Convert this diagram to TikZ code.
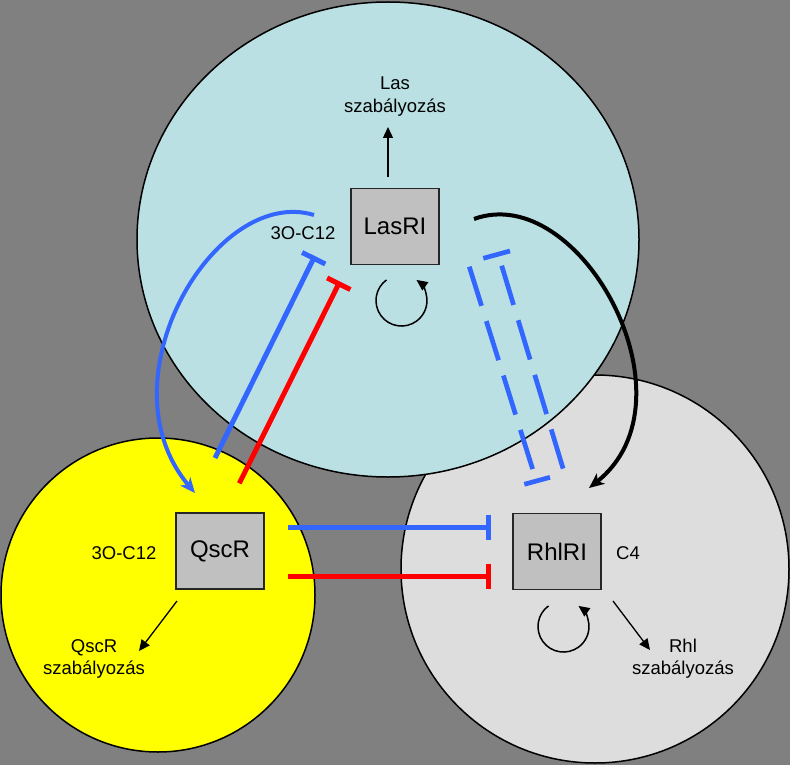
\documentclass[tikz,border=0pt]{standalone}
\usepackage{fontspec}
\setmainfont{Liberation Sans}
\usetikzlibrary{arrows.meta}
\definecolor{bgg}{RGB}{128,128,128}
\definecolor{cyanc}{RGB}{186,224,227}
\definecolor{lgrey}{RGB}{221,221,221}
\definecolor{boxg}{RGB}{192,192,192}
\definecolor{blu}{RGB}{51,102,255}
\definecolor{rd}{RGB}{255,0,0}
\definecolor{yel}{RGB}{255,255,0}
\begin{document}
\begin{tikzpicture}[x=1pt,y=-1pt,
  cell/.style={draw=black,line width=1.5pt},
  gene/.style={draw=black!85,line width=1.2pt,fill=boxg,minimum width=88pt,minimum height=76pt,inner sep=0pt,font=\fontsize{24}{28}\selectfont},
  lbl/.style={font=\fontsize{18.5}{22.5}\selectfont,align=center,inner sep=0pt},
  thinarr/.style={line width=1.3pt,-{Triangle[length=11pt,width=10pt]}},
  selfl/.style={line width=1.5pt,-{Triangle[length=11pt,width=10pt]}},
  inhbh/.style={line width=5pt,-{Bar[width=25pt,line width=5pt]}},
  inhbd/.style={line width=5pt,-{Bar[width=26pt,line width=5pt]}},
  bigarr/.style={line width=4pt,-{Stealth[length=15pt,width=13pt,inset=4pt]}},
  dashside/.style={blu,line width=4.7pt,dash pattern=on 41pt off 16pt},
  dashcap/.style={blu,line width=4.7pt}]
\useasboundingbox (0,0) rectangle (790,765);
\fill[bgg] (0,0) rectangle (790,765);
% cells
\draw[cell,fill=lgrey] (595,569) circle[radius=194];
\draw[cell,fill=cyanc] (388,239.5) ellipse[x radius=251,y radius=237.5];
\draw[cell,fill=yel] (158,595) circle[radius=157];
% gene boxes
\node[gene] (las) at (395,226.5) {LasRI};
\node[gene] (qsc) at (220,551) {QscR};
\node[gene] (rhl) at (557,551.5) {RhlRI};
% labels
\node[lbl] (lastxt) at (395,96.5) {Las\\szabályozás};
\node[lbl] (qsctxt) at (94,659) {QscR\\szabályozás};
\node[lbl] (rhltxt) at (683,658.5) {Rhl\\szabályozás};
\node[lbl] (c12a) at (303,233.5) {3O-C12};
\node[lbl] (c12b) at (124,553) {3O-C12};
\node[lbl] (c4) at (628,553) {C4};
% coordinates
\coordinate (lasA) at (388,177);
\coordinate (lasB) at (388,127);
\coordinate (qscA) at (177,601);
\coordinate (qscB) at (139,651);
\coordinate (rhlA) at (613,601);
\coordinate (rhlB) at (650,650);
\coordinate (lasL) at (386.5,279.9);
\coordinate (rhlL) at (548.5,605.9);
\coordinate (bluA) at (314,215);
\coordinate (bluB) at (195,493);
\coordinate (blkA) at (474,219);
\coordinate (blkB) at (589,488);
\coordinate (dbA) at (215,458);
\coordinate (dbB) at (314.8,256);
\coordinate (drA) at (239.3,483.3);
\coordinate (drB) at (339.9,281.5);
\coordinate (hbA) at (288,527);
\coordinate (hbB) at (491,527);
\coordinate (hrA) at (288,576);
\coordinate (hrB) at (491,576);
\coordinate (dlA) at (469.3,266.7);
\coordinate (dlB) at (532.7,469.3);
\coordinate (drrA) at (501.7,265.7);
\coordinate (drrB) at (563.3,469.3);
\coordinate (capA) at (483.3,258.3);
\coordinate (capB) at (510,251);
\coordinate (capC) at (524.3,484.3);
\coordinate (capD) at (550,477.3);
% regulation arrows
\draw[thinarr] (lasA) -- (lasB);
\draw[thinarr] (qscA) -- (qscB);
\draw[thinarr] (rhlA) -- (rhlB);
% self loops
\draw[selfl] (lasL) arc[start angle=234,end angle=-54,radius=25.5];
\draw[selfl] (rhlL) arc[start angle=234,end angle=-54,radius=25.5];
% dashed double connector
\draw[dashside] (dlA) -- (dlB);
\draw[dashside] (drrA) -- (drrB);
\draw[dashcap] (capA) -- (capB);
\draw[dashcap] (capC) -- (capD);
% inhibitions
\draw[inhbd,blu] (dbA) -- (dbB);
\draw[inhbd,rd] (drA) -- (drB);
\draw[inhbh,blu] (hbA) -- (hbB);
\draw[inhbh,rd] (hrA) -- (hrB);
% curved arrows
\draw[bigarr,blu] (bluA) .. controls (215,185) and (100,380) .. (bluB);
\draw[bigarr,black] (blkA) .. controls (580,180) and (700,400) .. (blkB);
\end{tikzpicture}
\end{document}
